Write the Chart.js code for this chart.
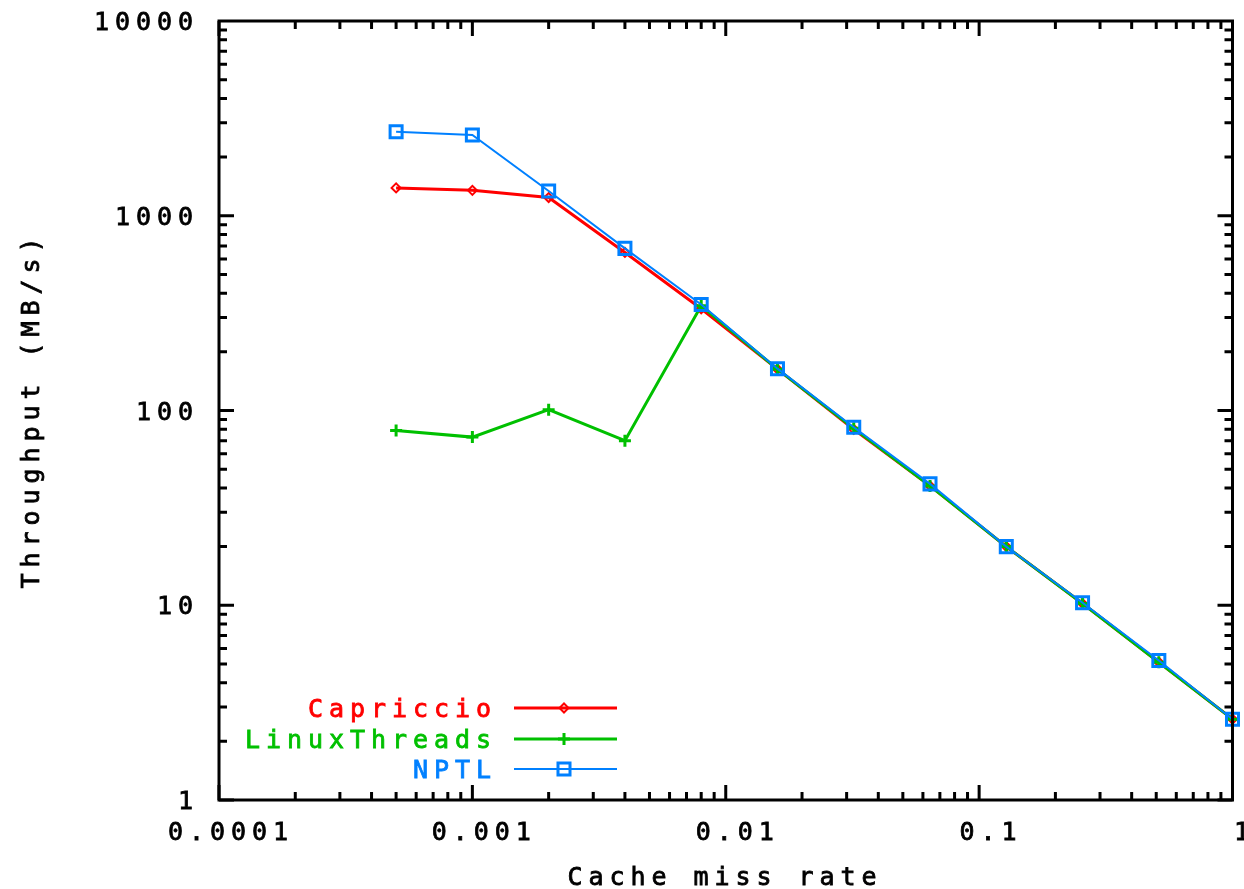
<!DOCTYPE html>
<html>
<head>
<meta charset="utf-8">
<script src="https://cdn.jsdelivr.net/npm/chart.js@4/dist/chart.umd.min.js"></script>
<style>
  html, body { margin: 0; padding: 0; background: #fff; }
  #wrap { width: 1244px; height: 889px; }
</style>
</head>
<body>
<div id="wrap"><canvas id="myChart" width="1244" height="889"></canvas></div>
<script>
  'use strict'

  const missRate = [0.0005, 0.001, 0.002, 0.004, 0.008, 0.016, 0.032, 0.064, 0.128, 0.256, 0.512, 1]
  const capriccio = [1390, 1350, 1240, 648, 333, 163, 80, 41, 20, 10.2, 5.1, 2.6]
  const linuxThreads = [79, 73, 101, 70, 345, 163, 81, 41, 20, 10.2, 5.1, 2.6]
  const nptl = [2700, 2600, 1340, 680, 350, 164, 82, 42, 20, 10.3, 5.2, 2.6]
  const xTicks = [0.0001, 0.001, 0.01, 0.1, 1]
  const xTickLabels = ['0.0001', '0.001', '0.01', '0.1', '1']
  const yTicks = [1, 10, 100, 1000, 10000]
  const yTickLabels = ['1', '10', '100', '1000', '10000']

  const FONT = '25px "DejaVu Sans Mono", monospace'
  const PITCH = 21
  const CAP = 9

  // gnuplot style fixed-pitch text
  function cellText (ctx, str, x, y, align, color) {
    const n = str.length
    let start = x
    if (align === 'right') start = x - n * PITCH
    else if (align === 'center') start = x - n * PITCH / 2
    ctx.fillStyle = color || '#000'
    ctx.strokeStyle = color || '#000'
    ctx.lineWidth = 0.8
    ctx.font = FONT
    ctx.textAlign = 'center'
    ctx.textBaseline = 'alphabetic'
    for (let i = 0; i < n; i++) {
      ctx.fillText(str[i], start + i * PITCH + PITCH / 2, y + CAP)
      ctx.strokeText(str[i], start + i * PITCH + PITCH / 2, y + CAP)
    }
  }

  function pts (ys) {
    return missRate.map((x, i) => ({ x: x, y: ys[i] }))
  }

  const series = [
    { label: 'Capriccio', data: capriccio, color: '#ff0000', width: 3, style: 'rectRot', radius: 4.5, pw: 2, order: 2 },
    { label: 'LinuxThreads', data: linuxThreads, color: '#00c000', width: 3, style: 'cross', radius: 6, pw: 3, order: 1 },
    { label: 'NPTL', data: nptl, color: '#0080ff', width: 2, style: 'rect', radius: 8.5, pw: 3, order: 0 }
  ]

  const frame = {
    id: 'frame',
    afterDatasetsDraw (chart) {
      const { ctx, chartArea: a, scales: { x, y } } = chart
      ctx.save()
      ctx.strokeStyle = '#000'
      ctx.lineWidth = 3
      ctx.strokeRect(a.left, a.top, a.right - a.left, a.bottom - a.top)

      ctx.beginPath()
      for (let d = 0; d < 4; d++) {
        for (let m = 1; m <= 9; m++) {
          const v = Math.pow(10, d) * m
          const len = m === 1 ? 15 : 8
          const py = y.getPixelForValue(v)
          ctx.moveTo(a.left, py); ctx.lineTo(a.left + len, py)
          ctx.moveTo(a.right, py); ctx.lineTo(a.right - len, py)
          const xv = Math.pow(10, d - 4) * m
          const px = x.getPixelForValue(xv)
          ctx.moveTo(px, a.bottom); ctx.lineTo(px, a.bottom - len)
          ctx.moveTo(px, a.top); ctx.lineTo(px, a.top + len)
        }
      }
      ctx.stroke()

      yTicks.forEach((v, i) => {
        cellText(ctx, yTickLabels[i], 196, y.getPixelForValue(v), 'right')
      })
      xTicks.forEach((v, i) => {
        cellText(ctx, xTickLabels[i], x.getPixelForValue(v) + 9, 831, 'center')
      })
      cellText(ctx, 'Cache miss rate', 722, 876, 'center')

      ctx.save()
      ctx.translate(30, 413)
      ctx.rotate(-Math.PI / 2)
      cellText(ctx, 'Throughput (MB/s)', 0, 0, 'center')
      ctx.restore()

      // key
      const rows = [708, 739, 769]
      series.forEach((s, i) => {
        const ry = rows[i]
        cellText(ctx, s.label, 494, ry, 'right', s.color)
        ctx.strokeStyle = s.color
        ctx.fillStyle = 'rgba(0,0,0,0)'
        ctx.lineWidth = s.width
        ctx.beginPath()
        ctx.moveTo(514, ry); ctx.lineTo(617, ry)
        ctx.stroke()
        ctx.lineWidth = s.pw
        Chart.helpers.drawPoint(ctx, { pointStyle: s.style, radius: s.radius, borderWidth: s.pw }, 564, ry)
      })
      ctx.restore()
    }
  }

  const ctx = document.getElementById('myChart')
  // eslint-disable-next-line no-unused-vars
  const myChart = new Chart(ctx, {
    type: 'line',
    data: {
      datasets: series.map(s => ({
        label: s.label,
        data: pts(s.data),
        borderColor: s.color,
        backgroundColor: s.color,
        borderWidth: s.width,
        pointStyle: s.style,
        pointRadius: s.radius,
        pointBorderWidth: s.pw,
        pointBackgroundColor: 'rgba(0,0,0,0)',
        pointBorderColor: s.color,
        tension: 0,
        clip: false,
        order: s.order
      }))
    },
    options: {
      responsive: false,
      animation: false,
      layout: { padding: { left: 219, right: 8, top: 21, bottom: 89 } },
      scales: {
        x: { type: 'logarithmic', min: 0.0001, max: 1, display: false },
        y: { type: 'logarithmic', min: 1, max: 10000, display: false }
      },
      plugins: {
        legend: { display: false },
        tooltip: { enabled: false }
      }
    },
    plugins: [frame]
  })
</script>
</body>
</html>
